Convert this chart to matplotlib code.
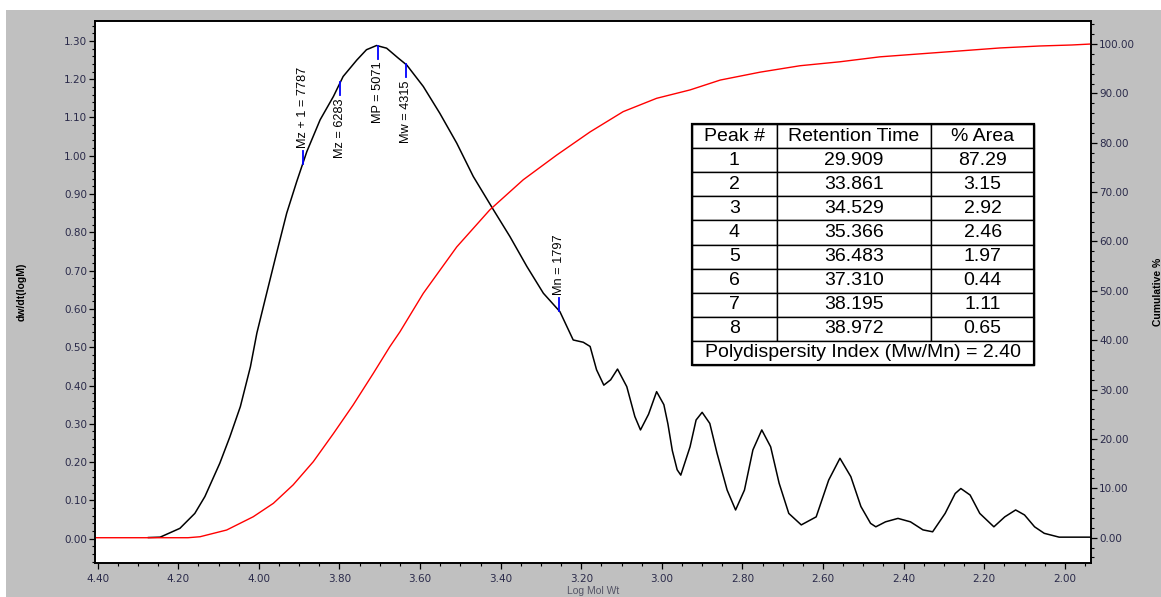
import numpy as np
import matplotlib
matplotlib.use("Agg")
import matplotlib.pyplot as plt
from matplotlib.patches import Rectangle
from matplotlib.ticker import MultipleLocator, FormatStrFormatter

plt.rcParams['font.family'] = ['Liberation Sans', 'DejaVu Sans']

# ---------------------------------------------------------------------------
# data
# ---------------------------------------------------------------------------

# differential distribution dw/dt(logM) (left axis)
black_logm = [4.274, 4.245, 4.196, 4.159, 4.134, 4.097, 4.072, 4.046, 4.021, 4.005,
              3.984, 3.956, 3.931, 3.906, 3.881, 3.848, 3.815, 3.791, 3.757, 3.733,
              3.708, 3.683, 3.654, 3.633, 3.592, 3.551, 3.509, 3.468, 3.418, 3.377,
              3.335, 3.294, 3.253, 3.220, 3.195, 3.178, 3.162, 3.144, 3.127, 3.110,
              3.087, 3.067, 3.053, 3.033, 3.013, 2.995, 2.985, 2.974, 2.962, 2.953,
              2.930, 2.915, 2.900, 2.881, 2.863, 2.838, 2.817, 2.795, 2.774, 2.752,
              2.730, 2.709, 2.685, 2.654, 2.617, 2.586, 2.558, 2.531, 2.506, 2.482,
              2.469, 2.445, 2.414, 2.383, 2.352, 2.328, 2.297, 2.272, 2.258, 2.235,
              2.211, 2.176, 2.149, 2.122, 2.100, 2.075, 2.051, 2.014, 1.946, 1.935]
black_val = [0.003, 0.004, 0.027, 0.066, 0.110, 0.197, 0.266, 0.345, 0.449, 0.537,
             0.627, 0.746, 0.850, 0.933, 1.011, 1.094, 1.155, 1.207, 1.250, 1.277,
             1.288, 1.281, 1.255, 1.237, 1.181, 1.111, 1.033, 0.946, 0.859, 0.789,
             0.711, 0.641, 0.593, 0.519, 0.513, 0.502, 0.441, 0.401, 0.415, 0.443,
             0.397, 0.319, 0.284, 0.325, 0.384, 0.350, 0.300, 0.230, 0.180, 0.166,
             0.240, 0.310, 0.330, 0.301, 0.223, 0.127, 0.075, 0.127, 0.232, 0.284,
             0.240, 0.145, 0.066, 0.036, 0.057, 0.153, 0.210, 0.162, 0.084, 0.040,
             0.031, 0.044, 0.053, 0.044, 0.023, 0.018, 0.066, 0.118, 0.131, 0.114,
             0.066, 0.031, 0.057, 0.075, 0.062, 0.031, 0.014, 0.004, 0.004, 0.004]

# cumulative % (right axis)
red_logm = [4.407, 4.176, 4.146, 4.080, 4.014, 3.964, 3.915, 3.865, 3.815, 3.766,
            3.716, 3.675, 3.650, 3.592, 3.509, 3.427, 3.344, 3.261, 3.178, 3.096,
            3.013, 2.930, 2.855, 2.756, 2.657, 2.558, 2.459, 2.360, 2.260, 2.161,
            2.062, 1.983, 1.935]
red_val = [0.0, 0.0, 0.2, 1.56, 4.25, 6.97, 10.7, 15.4, 21.1, 26.9,
           33.3, 38.7, 41.7, 49.5, 58.9, 66.4, 72.5, 77.5, 82.2, 86.3,
           89.0, 90.7, 92.7, 94.3, 95.6, 96.4, 97.4, 98.0, 98.6, 99.2,
           99.6, 99.8, 100.0]

# molecular weight averages marked on the curve
marker_names = ['Mz + 1', 'Mz', 'MP', 'Mw', 'Mn']
marker_values = [7787, 6283, 5071, 4315, 1797]
marker_up = [True, False, False, False, True]

# peak table
table_header = ['Peak #', 'Retention Time', '% Area']
peak_no = ['1', '2', '3', '4', '5', '6', '7', '8']
retention_time = ['29.909', '33.861', '34.529', '35.366', '36.483', '37.310', '38.195', '38.972']
pct_area = ['87.29', '3.15', '2.92', '2.46', '1.97', '0.44', '1.11', '0.65']
pdi_text = 'Polydispersity Index (Mw/Mn) = 2.40'

# ---------------------------------------------------------------------------
# figure
# ---------------------------------------------------------------------------

W, H = 1161, 597
fig = plt.figure(figsize=(W / 100, H / 100), dpi=100)
fig.patch.set_facecolor('white')
fig.add_artist(Rectangle((6 / W, 0), 1, 1 - 10 / H, transform=fig.transFigure,
                         facecolor='#c0c0c0', edgecolor='none', zorder=-10))

ax = fig.add_axes([95 / W, 34 / H, 996 / W, 542 / H])
ax.set_facecolor('white')
ax2 = ax.twinx()

ax.plot(black_logm, black_val, color='black', lw=1.1, zorder=3)
ax2.plot(red_logm, red_val, color='#ff0000', lw=1.0, zorder=2)

ax.set_xlim(4.4067, 1.935)
ax.set_ylim(-0.0635, 1.352)
ax2.set_ylim(-5.12, 104.66)

tick_col = '#2a2a4a'
ax.xaxis.set_major_locator(MultipleLocator(0.2))
ax.xaxis.set_minor_locator(MultipleLocator(0.05))
ax.xaxis.set_major_formatter(FormatStrFormatter('%.2f'))
ax.yaxis.set_major_locator(MultipleLocator(0.1))
ax.yaxis.set_minor_locator(MultipleLocator(0.02))
ax.yaxis.set_major_formatter(FormatStrFormatter('%.2f'))
ax2.yaxis.set_major_locator(MultipleLocator(10))
ax2.yaxis.set_minor_locator(MultipleLocator(2))
ax2.yaxis.set_major_formatter(FormatStrFormatter('%.2f'))

for a in (ax, ax2):
    a.tick_params(which='major', direction='out', length=4.3, width=0.9,
                  labelsize=7.5, labelcolor=tick_col, labelfontfamily='DejaVu Sans')
    a.tick_params(which='minor', direction='out', length=2.2, width=0.8)
    for s in a.spines.values():
        s.set_linewidth(1.2)
ax.tick_params(axis='x', which='major', pad=3.5)
ax.tick_params(axis='y', which='major', pad=1.5)
ax2.tick_params(axis='y', which='major', pad=1.5)

ax.set_ylabel('dw/dt(logM)', fontsize=7.5, fontweight='bold')
ax.yaxis.set_label_coords((27 - 95) / 996, 0.5)
ax2.set_ylabel('Cumulative %', fontsize=7.5, fontweight='bold')
ax2.yaxis.set_label_coords((1153 - 95) / 996, 0.5)
fig.text(593 / W, 1 - 586 / H, 'Log Mol Wt', ha='center', va='top',
         fontsize=7.5, color='#555566')

# markers for the averages
xs = np.array(black_logm[::-1])
ys = np.array(black_val[::-1])
for name, mw, up in zip(marker_names, marker_values, marker_up):
    lx = np.log10(mw)
    ly = np.interp(lx, xs, ys)
    sign = 1 if up else -1
    tip = ly + sign * 0.034
    ax.plot([lx, lx], [ly, tip], color='#0000ff', lw=1.3, zorder=4)
    ax.annotate(f'{name} = {mw}', (lx, tip), xytext=(0, sign * 2),
                textcoords='offset points', rotation=90, ha='center',
                va='bottom' if up else 'top', fontsize=9.2, zorder=5)

# peak table
tx0, tx1 = (692 - 95) / 996, (1034 - 95) / 996
row_h = 24.1 / 542
ttop = 1 - (124 - 21) / 542
cells = [[p, r, a] for p, r, a in zip(peak_no, retention_time, pct_area)]
tab = ax2.table(cellText=cells, colLabels=table_header, cellLoc='center',
                colWidths=[0.248, 0.452, 0.30],
                bbox=[tx0, ttop - 9 * row_h, tx1 - tx0, 9 * row_h], zorder=6)
tab2 = ax2.table(cellText=[[pdi_text]], cellLoc='center',
                 bbox=[tx0, ttop - 10 * row_h, tx1 - tx0, row_h], zorder=6)
for t in (tab, tab2):
    t.auto_set_font_size(False)
    t.set_fontsize(14)
    for c in t.get_celld().values():
        c.set_linewidth(1.0)
        c.set_edgecolor('black')
        c.set_facecolor('white')
        c.PAD = 0.02
ax2.add_patch(Rectangle((tx0, ttop - 10 * row_h), tx1 - tx0, 10 * row_h,
                        transform=ax2.transAxes, fill=False, lw=1.6,
                        edgecolor='black', zorder=7))

fig.savefig('out.png', dpi=100)
